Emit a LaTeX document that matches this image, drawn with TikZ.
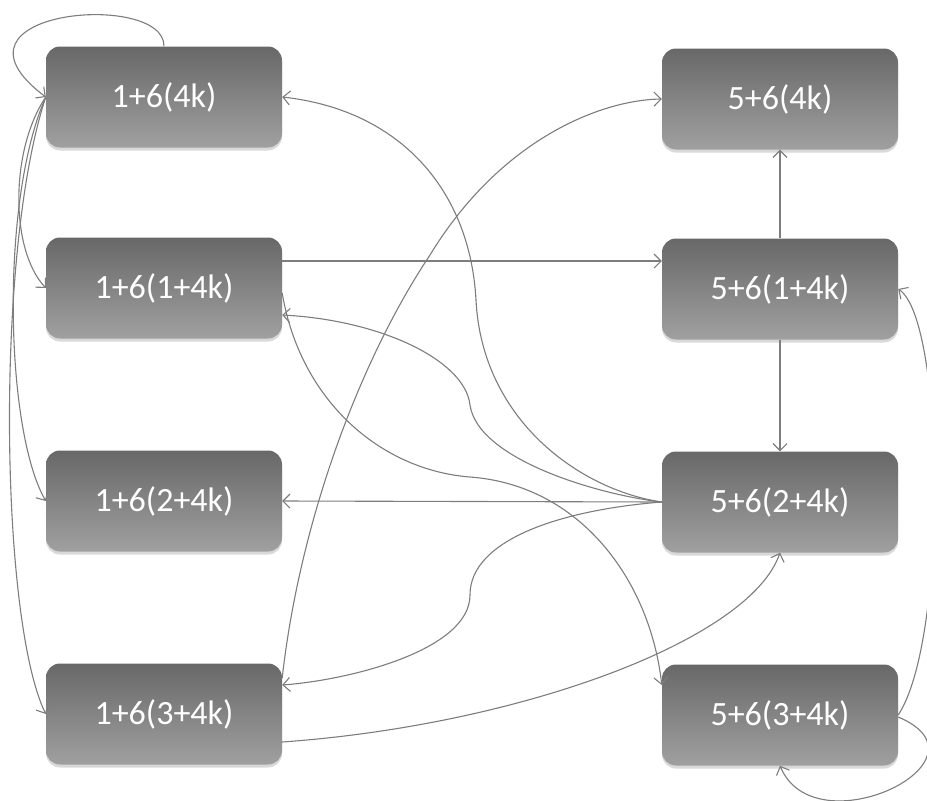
\documentclass[tikz,border=0pt]{standalone}
\usepackage{fontspec}
\setmainfont{Carlito}
\usepackage{tikz}
\usetikzlibrary{arrows.meta,shadows}

\definecolor{boxtop}{RGB}{104,104,104}
\definecolor{boxbottom}{RGB}{160,160,160}
\definecolor{linkgray}{RGB}{125,125,125}

\begin{document}
\begin{tikzpicture}[x=1pt,y=-1pt,
		state/.style={rectangle, rounded corners=14pt, minimum width=236pt, minimum height=101pt, inner sep=0pt,
			top color=boxtop, bottom color=boxbottom, text=white, font=\fontsize{34}{40}\selectfont,
			drop shadow={shadow xshift=0pt, shadow yshift=-3pt, opacity=0.3}},
		link/.style={color=linkgray, line width=1.1pt, -{Straight Barb[length=7pt,width=14pt]}}]
			\useasboundingbox (0,0) rectangle (927,801);

			\node [state] (L1) at (164,97) {1+6(4k)};
			\node [state] (L2) at (164,288) {1+6(1+4k)};
			\node [state] (L3) at (164,501) {1+6(2+4k)};
			\node [state] (L4) at (164,714) {1+6(3+4k)};
			\node [state] (R1) at (780,99) {5+6(4k)};
			\node [state] (R2) at (780,289) {5+6(1+4k)};
			\node [state] (R3) at (780,502) {5+6(2+4k)};
			\node [state] (R4) at (780,715) {5+6(3+4k)};

			\draw [link] (L1.north) .. controls (165,-10) and (-70,10) .. (L1.west);
			\draw [link] (L1.west) .. controls (10,150) and (10,250) .. (L2.west);
			\draw [link] (L1.west) .. controls (0,200) and (5,430) .. (L3.west);
			\draw [link] (L1.west) .. controls (-5,250) and (0,620) .. (L4.west);

			\draw [link] ([yshift=27pt]L2.east) -- ([yshift=28pt]R2.west);
			\draw [link] (R2.north) -- (R1.south);
			\draw [link] (R2.south) -- (R3.north);
			\draw [link] (R3.west) -- (L3.east);

			\draw [link] (R3.west) .. controls (580,490) and (482,420) .. (476,300) .. controls (470,190) and (400,110) .. (L1.east);
			\draw [link] (R3.west) .. controls (600,495) and (478,460) .. (470,405) .. controls (465,360) and (380,320) .. ([yshift=-27pt]L2.east);
			\draw [link] ([yshift=-5pt]L2.east) .. controls (300,400) and (380,470) .. (470,477) .. controls (580,485) and (650,580) .. ([yshift=30pt]R4.west);
			\draw [link] (R3.west) .. controls (560,510) and (470,540) .. (470,595) .. controls (470,650) and (350,680) .. ([yshift=29pt]L4.east);
			\draw [link] ([yshift=-28pt]L4.east) .. controls (520,725) and (750,640) .. (R3.south);
			\draw [link] ([yshift=36pt]L4.east) .. controls (300,520) and (360,360) .. (430,255) .. controls (500,140) and (600,100) .. (R1.west);

			\draw [link] (R4.east) .. controls (948,640) and (945,320) .. (R2.east);
			\draw [link] ([yshift=-2pt]R4.east) .. controls (1000,760) and (815,850) .. (R4.south);

		\end{tikzpicture}
\end{document}
